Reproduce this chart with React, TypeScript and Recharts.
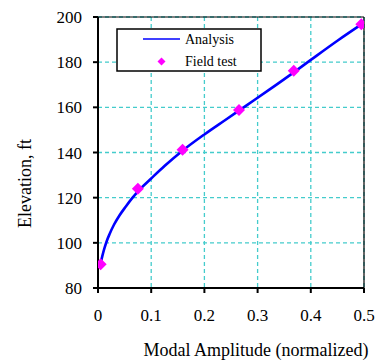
import React from 'react';
import {
  ComposedChart, Line, Scatter, XAxis, YAxis, CartesianGrid, ReferenceLine, Label,
} from 'recharts';

const analysisAmp = [0.004, 0.008, 0.012, 0.016, 0.022, 0.03, 0.04, 0.052, 0.065, 0.08, 0.1, 0.125, 0.16, 0.2, 0.24, 0.28, 0.32, 0.368, 0.4, 0.45, 0.5];
const analysisElev = [90, 94, 97.5, 100.5, 104, 108, 112, 116, 120, 124, 128.5, 134, 141, 148, 154.5, 161, 167.5, 175.5, 181, 189.5, 197.5];

const fieldAmp = [0.005, 0.075, 0.159, 0.265, 0.368, 0.495];
const fieldElev = [90.5, 124, 141.2, 158.8, 176.2, 196.8];

const xTicks = [0, 0.1, 0.2, 0.3, 0.4, 0.5];
const yTicks = [80, 100, 120, 140, 160, 180, 200];

const analysisData = analysisAmp.map((x, i) => ({ x, y: analysisElev[i] }));
const fieldData = fieldAmp.map((x, i) => ({ x, y: fieldElev[i] }));

const FONT = '"Liberation Serif", "Times New Roman", serif';
const GRID = '#44CCCC';

const Diamond = (props: any) => {
  const { cx, cy } = props;
  const r = 6;
  return (
    <polygon
      points={`${cx},${cy - r} ${cx + r},${cy} ${cx},${cy + r} ${cx - r},${cy}`}
      fill="#FF00FF"
    />
  );
};

const LegendBox = () => (
  <svg width={146} height={44} style={{ display: 'block' }}>
    <rect x={1} y={1} width={144} height={42} fill="#fff" stroke="#000" strokeWidth={1.5} />
    <line x1={27} y1={11} x2={64} y2={11} stroke="#0000FF" strokeWidth={1.5} />
    <text x={69} y={15.5} fontFamily={FONT} fontSize={14} fill="#000">Analysis</text>
    <polygon points="45.5,29.5 49.5,33.5 45.5,37.5 41.5,33.5" fill="#FF00FF" />
    <text x={69} y={38} fontFamily={FONT} fontSize={14} fill="#000">Field test</text>
  </svg>
);

const YLabel = (props: any) => {
  const { viewBox } = props;
  const x = viewBox.x + 25;
  const y = viewBox.y + viewBox.height / 2 + 31;
  return (
    <text
      x={x}
      y={y}
      transform={`rotate(-90, ${x}, ${y})`}
      textAnchor="middle"
      dominantBaseline="central"
      fontFamily={FONT}
      fontSize={18}
      fill="#000"
    >
      Elevation, ft
    </text>
  );
};

const XLabel = (props: any) => {
  const { viewBox } = props;
  const x = viewBox.x + viewBox.width / 2 + 25;
  const y = viewBox.y + 68;
  return (
    <text x={x} y={y} textAnchor="middle" fontFamily={FONT} fontSize={18} fill="#000">
      Modal Amplitude (normalized)
    </text>
  );
};

export default function App() {
  return (
    <div style={{ position: 'absolute', left: 0, top: 0, width: 375, height: 360, background: '#fff', fontFamily: FONT }}>
      <style>{`.recharts-text, .recharts-label, .recharts-cartesian-axis-tick-value { font-family: "Liberation Serif", "Times New Roman", serif !important; }`}</style>
      <ComposedChart
        width={375}
        height={360}
        margin={{ top: 17, right: 11, bottom: 0, left: 0 }}
      >
        <CartesianGrid stroke={GRID} strokeDasharray="4 3" strokeWidth={1.3} />
        <XAxis
          dataKey="x"
          type="number"
          domain={[0, 0.5]}
          ticks={xTicks}
          tickFormatter={(v: number) => (v === 0 ? '0' : String(v))}
          height={72}
          stroke="#000"
          strokeWidth={2}
          tickSize={5}
          tickMargin={16}
          tick={{ fill: '#000', fontSize: 17, fontFamily: FONT }}
          allowDataOverflow
        >
          <Label content={<XLabel />} />
        </XAxis>
        <YAxis
          dataKey="y"
          type="number"
          domain={[80, 200]}
          ticks={yTicks}
          width={98}
          stroke="#000"
          strokeWidth={2}
          tickSize={5}
          tickMargin={11}
          tick={{ fill: '#000', fontSize: 17, fontFamily: FONT }}
          allowDataOverflow
        >
          <Label content={<YLabel />} />
        </YAxis>
        <ReferenceLine x={0.5} stroke="#000" strokeWidth={1.2} />
        <ReferenceLine y={200} stroke="#000" strokeWidth={1.2} />
        <Line
          data={analysisData}
          dataKey="y"
          type="monotone"
          stroke="#0000FF"
          strokeWidth={2.6}
          dot={false}
          isAnimationActive={false}
        />
        <Scatter
          data={fieldData}
          dataKey="y"
          shape={<Diamond />}
          isAnimationActive={false}
        />
      </ComposedChart>
      <div style={{ position: 'absolute', left: 116, top: 28 }}>
        <LegendBox />
      </div>
    </div>
  );
}
